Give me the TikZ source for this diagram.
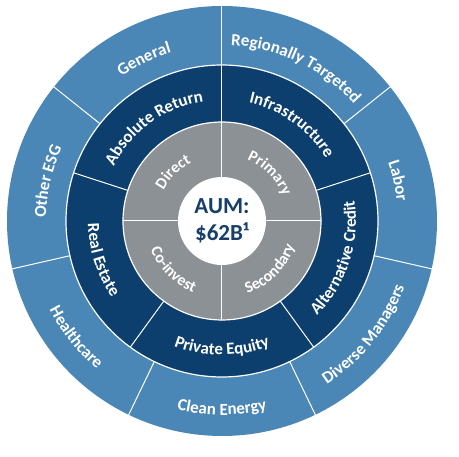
\documentclass[tikz,border=0pt]{standalone}
\usepackage{fontspec}
\setmainfont{Carlito}
\usepackage{xcolor}
\usepackage{tikz}
\usetikzlibrary{decorations.text}
\definecolor{outerblue}{HTML}{4A86B6}
\definecolor{darkblue}{HTML}{0C3F6D}
\definecolor{midgray}{HTML}{8C9196}
\definecolor{navy}{HTML}{173F6B}
\tikzset{
  ring/.style={draw=white, line width=1.2pt},
  spoke/.style={draw=white, line width=1pt, line cap=round},
  hub/.style={circle, fill=white, inner sep=0pt, minimum size=88pt, align=center,
    text=navy, font=\bfseries\fontsize{23}{27}\selectfont},
}
\newcommand\wlab{\color{white}\bfseries\fontsize{17}{19}\selectfont}
\newcommand\wlabs{\color{white}\bfseries\fontsize{16}{18}\selectfont}
% text on an arc: from angle, to angle, radius (pt), text
\newcommand\curvelabel[4]{%
  \path[decorate, decoration={text along path, text align=center,
    text={|\wlab|#4}}] (#1:#3pt) arc[start angle=#1, end angle=#2, radius=#3pt];}
\newcommand\hublabel[4]{%
  \path[decorate, decoration={text along path, text align=center,
    text={|\wlabs|#4}}] (#1:#3pt) arc[start angle=#1, end angle=#2, radius=#3pt];}

\begin{document}
\begin{tikzpicture}[x=1pt,y=1pt]
  \useasboundingbox (-222,-236) rectangle (237,221);
  \coordinate (O) at (0,0);
  % rings
  \fill[outerblue] (O) circle[radius=215pt];
  \fill[darkblue] (O) circle[radius=156pt];
  \fill[midgray] (O) circle[radius=99pt];
  \draw[ring] (O) circle[radius=156pt];
  \draw[ring] (O) circle[radius=99pt];
  % spokes
  \foreach \a in {0,90,180,270} \draw[spoke] (\a:44pt) -- (\a:99pt);
  \foreach \a in {90,18,-54,-126,162} \draw[spoke] (\a:99pt) -- (\a:156pt);
  \foreach \k in {0,...,6} \draw[spoke] ({90-\k*360/7}:156pt) -- ({90-\k*360/7}:216pt);
  \node[hub] (aum) at (O) {AUM:\\\$62B¹};
  % outer ring
  \curvelabel{141.43}{90}{176}{General}
  \curvelabel{90}{38.57}{176}{Regionally Targeted}
  \curvelabel{38.57}{-12.86}{176}{Labor}
  \curvelabel{192.86}{141.43}{176}{Other ESG}
  \curvelabel{-64.29}{-12.86}{194}{Diverse Managers}
  \curvelabel{-115.71}{-64.29}{194}{Clean Energy}
  \curvelabel{-167.14}{-115.71}{194}{Healthcare}
  % middle ring
  \curvelabel{162}{90}{121}{Absolute Return}
  \curvelabel{90}{18}{121}{Infrastructure}
  \curvelabel{-54}{18}{134}{Alternative Credit}
  \curvelabel{-126}{-54}{134}{Private Equity}
  \curvelabel{-198}{-126}{134}{Real Estate}
  % inner ring
  \hublabel{180}{90}{66}{Direct}
  \hublabel{90}{0}{66}{Primary}
  \hublabel{-90}{0}{77}{Secondary}
  \hublabel{-180}{-90}{77}{Co-invest}
\end{tikzpicture}
\end{document}
